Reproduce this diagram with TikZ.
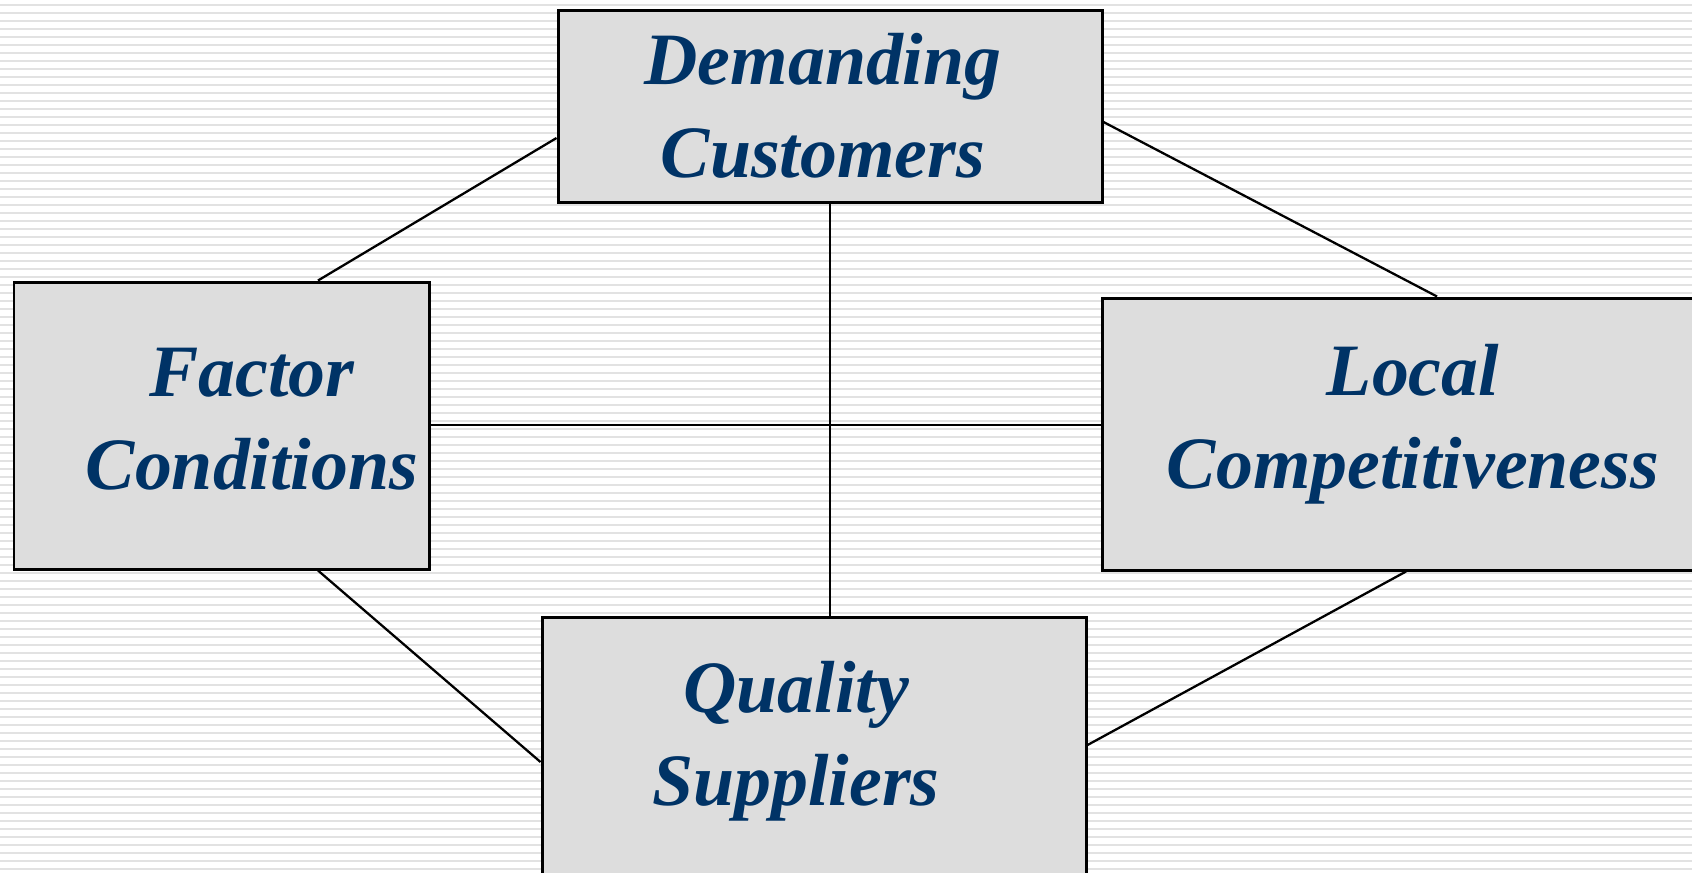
\documentclass[tikz,border=0pt]{standalone}
\usepackage{fontspec}
\setmainfont{Liberation Serif}
\definecolor{txtblue}{RGB}{0,51,102}
\definecolor{boxgray}{RGB}{221,221,221}
\definecolor{stripe}{RGB}{226,226,226}
\begin{document}
\begin{tikzpicture}[x=0.01cm,y=-0.01cm,
  box/.style={draw=black,fill=boxgray,line width=0.85pt,rectangle,inner sep=0pt},
  lbl/.style={text=txtblue,font=\fontsize{21}{26.5}\selectfont\bfseries\itshape,align=center,inner sep=0pt},
  link/.style={draw=black,line width=0.65pt}]
\useasboundingbox (0,0) rectangle (1692,872);
\clip (0,0) rectangle (1692,872);
\fill[white] (0,0) rectangle (1692,872);
\foreach \k in {0,...,109}{
  \draw[stripe,line width=0.6pt] (0,{\k*8+5}) -- (1692,{\k*8+5});
}
% boxes
\node[box,minimum width=544*0.01cm,minimum height=192*0.01cm] (dc) at (830,106) {};
\node[box,minimum width=415*0.01cm,minimum height=287*0.01cm] (fc) at (221.5,425.5) {};
\node[box,minimum width=600*0.01cm,minimum height=272*0.01cm] (lc) at (1402,434) {};
\node[box,minimum width=544*0.01cm,minimum height=280*0.01cm] (qs) at (814,757) {};
% connectors
\draw[link] (dc.west |- {(0,138)}) -- (fc.north -| {(318,0)});
\draw[link] (dc.east |- {(0,122)}) -- (lc.north -| {(1437,0)});
\draw[link] (dc.south -| {(830,0)}) -- (qs.north -| {(830,0)});
\draw[link] (fc.east |- {(0,425)}) -- (lc.west |- {(0,425)});
\draw[link] (fc.south -| {(318,0)}) -- (qs.west |- {(0,762)});
\draw[link] (lc.south -| {(1406,0)}) -- (qs.east |- {(0,745)});
% labels
\node[lbl] (dct) at (823,106) {Demanding\\Customers};
\node[lbl] (fct) at (252,419) {Factor\\Conditions};
\node[lbl] (lct) at (1413,424) {Local\\Competitiveness};
\node[lbl] (qst) at (796,741) {Quality\\Suppliers};
\end{tikzpicture}
\end{document}
